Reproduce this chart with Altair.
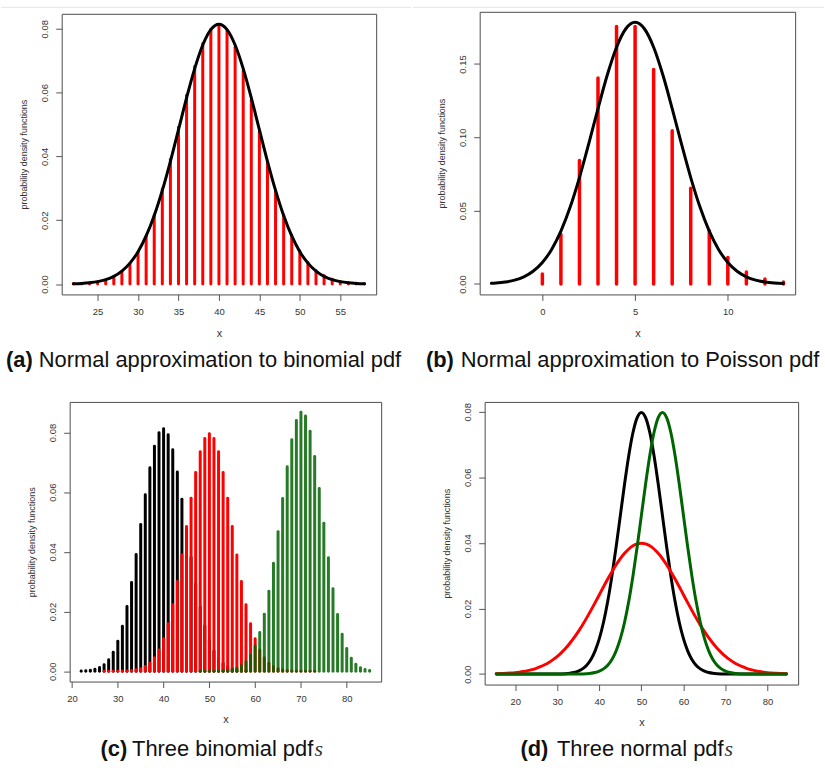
import altair as alt
import pandas as pd

# ---------------- data ----------------
# (a) binomial pmf (n=100, p=0.4) and its normal approximation
xa = list(range(22, 59))
binom_a = [0.000064, 0.000145, 0.000310, 0.000627, 0.001207, 0.002205, 0.003832, 0.006343,
           0.010008, 0.015065, 0.021656, 0.029750, 0.039083, 0.049133, 0.059141, 0.068199,
           0.075378, 0.079888, 0.081219, 0.079238, 0.074207, 0.066728, 0.057629, 0.047811,
           0.038110, 0.029191, 0.021488, 0.015202, 0.010338, 0.006757, 0.004245, 0.002563,
           0.001487, 0.000829, 0.000444, 0.000229, 0.000113]
norm_a = [0.0000955, 0.000198, 0.000393, 0.000750, 0.001373, 0.002409, 0.004054, 0.006546,
          0.01014, 0.01506, 0.02147, 0.02934, 0.03847, 0.04837, 0.05835, 0.06751, 0.07492,
          0.07975, 0.08143, 0.07975, 0.07492, 0.06751, 0.05835, 0.04837, 0.03847, 0.02934,
          0.02147, 0.01506, 0.01014, 0.006546, 0.004054, 0.002409, 0.001373, 0.000750,
          0.000393, 0.000198, 0.0000955]

# (b) Poisson pmf (lambda=5) and its normal approximation
xb = list(range(0, 14))
pois_b = [0.006738, 0.033690, 0.084224, 0.140374, 0.175467, 0.175467, 0.146223, 0.104445,
          0.065278, 0.036266, 0.018133, 0.008242, 0.003434, 0.001321]
xb_curve = [-2.75, -2.5, -2.0, -1.5, -1.0, -0.5, 0.0, 0.5, 1.0, 1.5, 2.0, 2.5, 3.0, 3.5, 4.0,
            4.5, 5.0, 5.5, 6.0, 6.5, 7.0, 7.5, 8.0, 8.5, 9.0, 9.5, 10.0, 10.5, 11.0, 11.5,
            12.0, 12.5, 13.0]
norm_b = [0.000439, 0.000643, 0.001329, 0.002609, 0.004875, 0.008667, 0.01464, 0.02355,
          0.03602, 0.05241, 0.07254, 0.09550, 0.11959, 0.14246, 0.16143, 0.17400, 0.17841,
          0.17400, 0.16143, 0.14246, 0.11959, 0.09550, 0.07254, 0.05241, 0.03602, 0.02355,
          0.01464, 0.008667, 0.004875, 0.002609, 0.001329, 0.000643, 0.000297]

# (c) three binomial pmfs
xc_black = list(range(22, 59))
binom_black = binom_a
xc_red = list(range(27, 74))
binom_red = [0.0000015, 0.0000039, 0.0000098, 0.0000232, 0.0000523, 0.000113, 0.000232,
             0.000458, 0.000864, 0.001560, 0.002698, 0.004473, 0.007111, 0.010844, 0.015869,
             0.022292, 0.030069, 0.038953, 0.048474, 0.057958, 0.066590, 0.073527, 0.078029,
             0.079589, 0.078029, 0.073527, 0.066590, 0.057958, 0.048474, 0.038953, 0.030069,
             0.022292, 0.015869, 0.010844, 0.007111, 0.004473, 0.002698, 0.001560, 0.000864,
             0.000458, 0.000232, 0.000113, 0.0000523, 0.0000232, 0.0000098, 0.0000039,
             0.0000015]
xc_green = list(range(48, 86))
binom_green = [0.0000022, 0.0000055, 0.0000130, 0.0000298, 0.0000655, 0.000138, 0.000281,
               0.000549, 0.001029, 0.001853, 0.003206, 0.005325, 0.008490, 0.012991, 0.019067,
               0.026835, 0.036199, 0.046780, 0.057884, 0.068539, 0.077610, 0.083983, 0.086783,
               0.085561, 0.080411, 0.071966, 0.061268, 0.049559, 0.038039, 0.027665, 0.019034,
               0.012368, 0.007575, 0.004364, 0.002360, 0.001194, 0.000564, 0.000248]

# (d) three normal pdfs
xd = [15.5] + list(range(16, 85)) + [84.5]
norm_d_black = [0.0,
                0.0, 0.0, 0.0, 0.0, 0.0, 0.0, 0.0, 0.0, 0.0, 0.0, 0.0, 0.0, 0.0, 0.0,
                0.0000268, 0.0000584, 0.000122, 0.000246, 0.000477, 0.000886, 0.001583,
                0.002717, 0.004479, 0.007095, 0.010798, 0.015790, 0.022184, 0.029945, 0.038837,
                0.048394, 0.057938, 0.066645, 0.073654, 0.078208, 0.079788, 0.078208, 0.073654,
                0.066645, 0.057938, 0.048394, 0.038837, 0.029945, 0.022184, 0.015790, 0.010798,
                0.007095, 0.004479, 0.002717, 0.001583, 0.000886, 0.000477, 0.000246, 0.000122,
                0.0000584, 0.0000268,
                0.0, 0.0, 0.0, 0.0, 0.0, 0.0, 0.0, 0.0, 0.0, 0.0, 0.0, 0.0, 0.0, 0.0,
                0.0]
norm_d_green = [0.0,
                0.0, 0.0, 0.0, 0.0, 0.0, 0.0, 0.0, 0.0, 0.0, 0.0, 0.0, 0.0, 0.0, 0.0, 0.0,
                0.0, 0.0, 0.0, 0.0,
                0.0000268, 0.0000584, 0.000122, 0.000246, 0.000477, 0.000886, 0.001583,
                0.002717, 0.004479, 0.007095, 0.010798, 0.015790, 0.022184, 0.029945, 0.038837,
                0.048394, 0.057938, 0.066645, 0.073654, 0.078208, 0.079788, 0.078208, 0.073654,
                0.066645, 0.057938, 0.048394, 0.038837, 0.029945, 0.022184, 0.015790, 0.010798,
                0.007095, 0.004479, 0.002717, 0.001583, 0.000886, 0.000477, 0.000246, 0.000122,
                0.0000584, 0.0000268,
                0.0, 0.0, 0.0, 0.0, 0.0, 0.0, 0.0, 0.0, 0.0,
                0.0]
norm_d_red = [0.000104, 0.000123, 0.000172, 0.000238, 0.000327, 0.000443, 0.000595, 0.000792,
              0.001042, 0.001358, 0.001753, 0.002239, 0.002833, 0.003547, 0.004398, 0.005399,
              0.006562, 0.007895, 0.009405, 0.011092, 0.012952, 0.014973, 0.017137, 0.019419,
              0.021785, 0.024197, 0.026608, 0.028969, 0.031225, 0.033322, 0.035207, 0.036827,
              0.038139, 0.039104, 0.039695, 0.039894, 0.039695, 0.039104, 0.038139, 0.036827,
              0.035207, 0.033322, 0.031225, 0.028969, 0.026608, 0.024197, 0.021785, 0.019419,
              0.017137, 0.014973, 0.012952, 0.011092, 0.009405, 0.007895, 0.006562, 0.005399,
              0.004398, 0.003547, 0.002833, 0.002239, 0.001753, 0.001358, 0.001042, 0.000792,
              0.000595, 0.000443, 0.000327, 0.000238, 0.000172, 0.000123, 0.000104]

captions = {
    "a": ("(a)", "Normal approximation to binomial pdf", ""),
    "b": ("(b)", "Normal approximation to Poisson pdf", ""),
    "c": ("(c)", "Three binomial pdf", "s"),
    "d": ("(d)", "Three normal pdf", "s"),
}

YTITLE = "probability density functions"
FONT = "Liberation Sans"
RED = "#ff0000"
GREEN = "#006400"
BLACK = "#000000"
FRAME = "#4d4d4d"

one = pd.DataFrame({"k": [0]})


class Box:
    """Pixel geometry of one sub-figure: cell size and plot frame inside it."""
    def __init__(self, w, h, x0, x1, y0, y1, xtitle_y):
        self.w, self.h = w, h
        self.x0, self.x1, self.y0, self.y1 = x0, x1, y0, y1
        self.xtitle_y = xtitle_y


def axes(b, xticks, yticks):
    ax = alt.Axis(values=xticks, format="d", domain=False, grid=False, tickSize=6,
                  tickColor="#555555", tickWidth=1, labelFont=FONT, labelFontSize=9.5,
                  labelColor="#333333", labelPadding=6, labelFlush=False, labelOverlap=False,
                  offset=b.y1 - b.h,
                  title="x", titleFont=FONT, titleFontSize=11, titleFontWeight="normal",
                  titleColor="#333333", titleX=(b.x0 + b.x1) / 2, titleY=b.xtitle_y,
                  titleBaseline="middle", titleAlign="center")
    ay = alt.Axis(values=yticks, format=".2f", domain=False, grid=False, tickSize=6,
                  tickColor="#555555", tickWidth=1, labelFont=FONT, labelFontSize=9.5,
                  labelColor="#333333", labelAngle=270, labelAlign="center",
                  labelBaseline="middle", labelPadding=11, labelFlush=False,
                  labelOverlap=False, offset=-b.x0,
                  title=YTITLE, titleFont=FONT, titleFontSize=9,
                  titleFontWeight="normal", titleColor="#333333", titleAngle=270,
                  titleX=-38, titleY=(b.y0 + b.y1) / 2, titleBaseline="middle",
                  titleAlign="center")
    return ax, ay


def enc_xy(b, xdom, ydom, ax, ay):
    return dict(
        x=alt.X("x:Q", scale=alt.Scale(domain=xdom, range=[b.x0, b.x1], nice=False,
                                       zero=False), axis=ax),
        y=alt.Y("y:Q", scale=alt.Scale(domain=ydom, range=[b.y1, b.y0], nice=False,
                                       zero=False), axis=ay),
    )


def bars(b, xs, ys, color, width, xdom, ydom, ax, ay, opacity=1.0):
    df = pd.DataFrame({"x": xs, "y": ys})
    return alt.Chart(df).mark_rule(color=color, strokeWidth=width, strokeCap="round",
                                   opacity=opacity).encode(
        y2=alt.datum(0), **enc_xy(b, xdom, ydom, ax, ay))


def curve(b, xs, ys, color, width, xdom, ydom, ax, ay):
    df = pd.DataFrame({"x": xs, "y": ys})
    return alt.Chart(df).mark_line(color=color, strokeWidth=width, interpolate="monotone",
                                   strokeCap="round", strokeJoin="round").encode(
        **enc_xy(b, xdom, ydom, ax, ay))


def frame(b):
    return alt.Chart(one).mark_rect(fillOpacity=0, stroke=FRAME, strokeWidth=1).encode(
        x=alt.value(b.x0 + 0.5), x2=alt.value(b.x1 + 0.5),
        y=alt.value(b.y0 + 0.5), y2=alt.value(b.y1 + 0.5))


def txt(x, y, s, size=22, weight="normal", style="normal", font=FONT, color="#111111"):
    return alt.Chart(one).mark_text(align="left", baseline="alphabetic", font=font,
                                    fontSize=size, fontWeight=weight, fontStyle=style,
                                    color=color).encode(
        x=alt.value(x), y=alt.value(y), text=alt.value(s))


def anchor(x, y):
    return alt.Chart(one).mark_rule(strokeOpacity=0, strokeWidth=0.1).encode(
        x=alt.value(x), y=alt.value(y), x2=alt.value(x), y2=alt.value(y))


def hline(x1, x2, y):
    return alt.Chart(one).mark_rule(color="#e4e4e4", strokeWidth=1).encode(
        x=alt.value(x1), x2=alt.value(x2), y=alt.value(y))


def caption_layers(key, xb_, xt_, xs_, yb):
    bl, t, s = captions[key]
    out = [txt(xb_, yb, bl, weight="bold"), txt(xt_, yb, t)]
    if s:
        out.append(txt(xs_, yb, s, font="Liberation Serif", style="italic", color="#333333"))
    return out


# ---------------- panel (a) ----------------
ba = Box(412, 390, 61, 377, 12, 294, 39)
xdom_a, ydom_a = [20.56, 59.44], [-0.00326, 0.08469]
ax, ay = axes(ba, [25, 30, 35, 40, 45, 50, 55], [0, 0.02, 0.04, 0.06, 0.08])
pa = alt.layer(
    bars(ba, xa, binom_a, RED, 3, xdom_a, ydom_a, ax, ay),
    curve(ba, xa, norm_a, BLACK, 3, xdom_a, ydom_a, ax, ay),
    frame(ba),
    *caption_layers("a", 5, 38, 0, 367),
    hline(0, 412, 5.5),
    anchor(0, 0), anchor(ba.w, ba.h),
).properties(width=ba.w, height=ba.h)

# ---------------- panel (b) ----------------
bb = Box(413, 390, 67, 384, 10, 294, 39)
xdom_b, ydom_b = [-3.38, 13.63], [-0.00714, 0.18555]
ax, ay = axes(bb, [0, 5, 10], [0, 0.05, 0.10, 0.15])
pb = alt.layer(
    bars(bb, xb, pois_b, RED, 3.5, xdom_b, ydom_b, ax, ay),
    curve(bb, xb_curve, norm_b, BLACK, 3, xdom_b, ydom_b, ax, ay),
    frame(bb),
    *caption_layers("b", 13, 48, 0, 367),
    hline(0, 413, 5.5),
    anchor(0, 0), anchor(bb.w, bb.h),
).properties(width=bb.w, height=bb.h)

# ---------------- panel (c) ----------------
bc = Box(412, 380, 69, 382, 12, 293, 38)
xdom_c, ydom_c = [19.48, 87.52], [-0.00347, 0.09025]
ax, ay = axes(bc, [20, 30, 40, 50, 60, 70, 80], [0, 0.02, 0.04, 0.06, 0.08])
pc = alt.layer(
    bars(bc, xc_black, binom_black, BLACK, 3, xdom_c, ydom_c, ax, ay),
    bars(bc, xc_red, binom_red, RED, 3, xdom_c, ydom_c, ax, ay),
    bars(bc, xc_green, binom_green, GREEN, 3, xdom_c, ydom_c, ax, ay, opacity=0.85),
    frame(bc),
    *caption_layers("c", 100, 131.7, 315, 368),
    anchor(0, 0), anchor(bc.w, bc.h),
).properties(width=bc.w, height=bc.h)

# ---------------- panel (d) ----------------
bd = Box(413, 380, 72, 387, 12, 296, 38)
xdom_d, ydom_d = [12.74, 87.26], [-0.00319, 0.08298]
ax, ay = axes(bd, [20, 30, 40, 50, 60, 70, 80], [0, 0.02, 0.04, 0.06, 0.08])
pd_ = alt.layer(
    curve(bd, xd, norm_d_black, BLACK, 3, xdom_d, ydom_d, ax, ay),
    curve(bd, xd, norm_d_red, RED, 3, xdom_d, ydom_d, ax, ay),
    curve(bd, xd, norm_d_green, GREEN, 3, xdom_d, ydom_d, ax, ay),
    frame(bd),
    *caption_layers("d", 108, 144.7, 313, 368),
    anchor(0, 0), anchor(bd.w, bd.h),
).properties(width=bd.w, height=bd.h)

chart = alt.concat(
    pa, pb, pc, pd_, columns=2, spacing=0,
).properties(
    padding={"left": 0, "top": 0, "right": 0, "bottom": 0}, background="white"
).configure(
    font=FONT
).configure_view(
    stroke="transparent", strokeWidth=0, strokeOpacity=0, fill="white"
)

chart.save("out.html", embed_options={"renderer": "svg", "actions": False})
